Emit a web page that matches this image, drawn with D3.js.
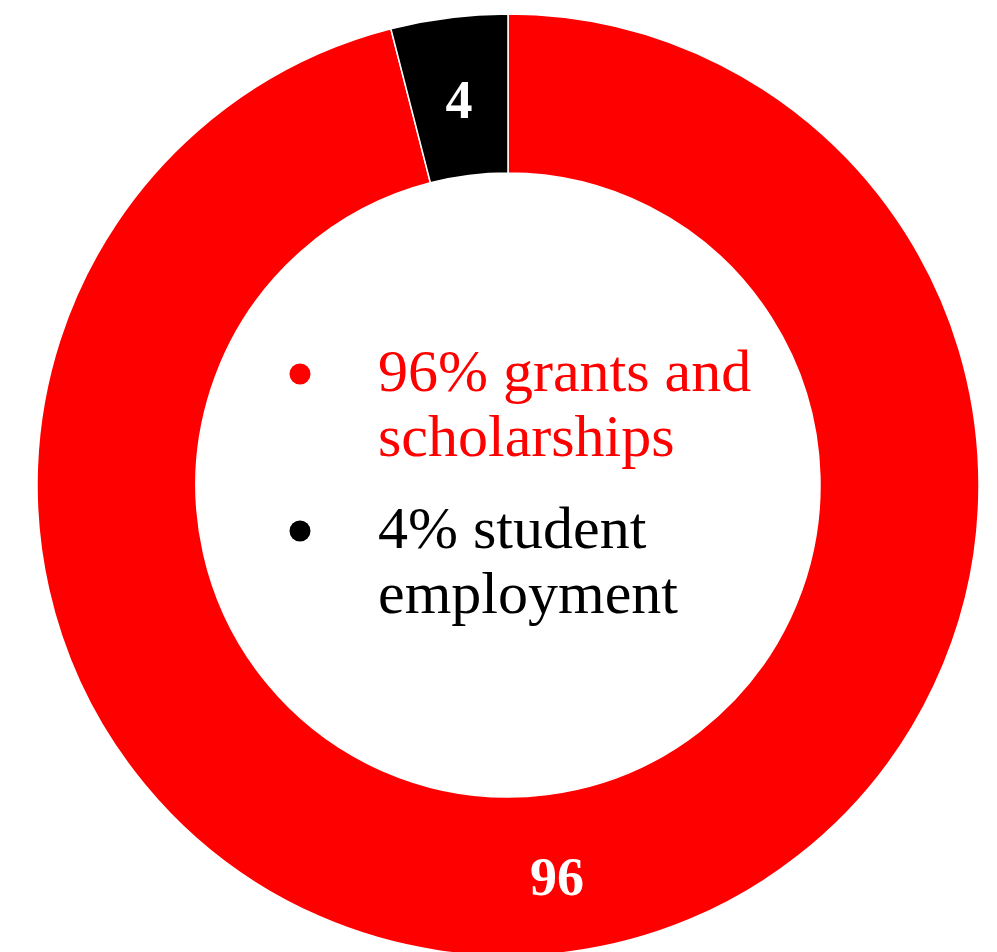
<!DOCTYPE html>
<html>
<head>
<meta charset="utf-8">
<script src="https://cdn.jsdelivr.net/npm/d3@7"></script>
<style>
  html, body { margin: 0; padding: 0; background: #fff; }
  svg { display: block; }
</style>
</head>
<body>
<svg id="chart" width="997" height="952"></svg>
<script>
// Share of aid by source (percent)
const categories = ["grants and scholarships", "student employment"];
const values = [96, 4];
const colors = ["#ff0000", "#000000"];
// Legend text, wrapped onto two lines per entry
const legendLines = [
  ["96% grants and", "scholarships"],
  ["4% student", "employment"]
];

const svg = d3.select("#chart");
const cx = 508, cy = 485;
const outerR = 471, innerR = 312;

const data = categories.map((c, i) => ({ category: c, value: values[i], color: colors[i] }));

const pie = d3.pie().sort(null).value(d => d.value);
const arc = d3.arc().innerRadius(innerR).outerRadius(outerR);

const g = svg.append("g").attr("transform", `translate(${cx},${cy})`);
const arcs = pie(data);

g.selectAll("path.slice")
  .data(arcs)
  .join("path")
  .attr("class", "slice")
  .attr("d", arc)
  .attr("fill", d => d.data.color)
  .attr("stroke", "#ffffff")
  .attr("stroke-width", 1.5);

g.selectAll("text.value")
  .data(arcs)
  .join("text")
  .attr("class", "value")
  .attr("transform", d => `translate(${arc.centroid(d)})`)
  .attr("text-anchor", "middle")
  .attr("dy", "0.4em")
  .attr("fill", "#ffffff")
  .attr("font-family", "'Liberation Serif', serif")
  .attr("font-weight", "bold")
  .attr("font-size", 54)
  .text(d => d.data.value);

// Legend in the hole of the donut
const legend = svg.append("g");
const legendX = 378, bulletX = 300;
const firstBaseline = [391, 548];
const lineGap = 65;

legendLines.forEach((lines, i) => {
  const item = legend.append("g");
  item.append("circle")
    .attr("cx", bulletX)
    .attr("cy", firstBaseline[i] - 17)
    .attr("r", 10.5)
    .attr("fill", colors[i]);
  const t = item.append("text")
    .attr("font-family", "'Liberation Serif', serif")
    .attr("font-size", 60)
    .attr("fill", colors[i]);
  lines.forEach((line, j) => {
    t.append("tspan")
      .attr("x", legendX)
      .attr("y", firstBaseline[i] + j * lineGap)
      .text(line);
  });
});
</script>
</body>
</html>
